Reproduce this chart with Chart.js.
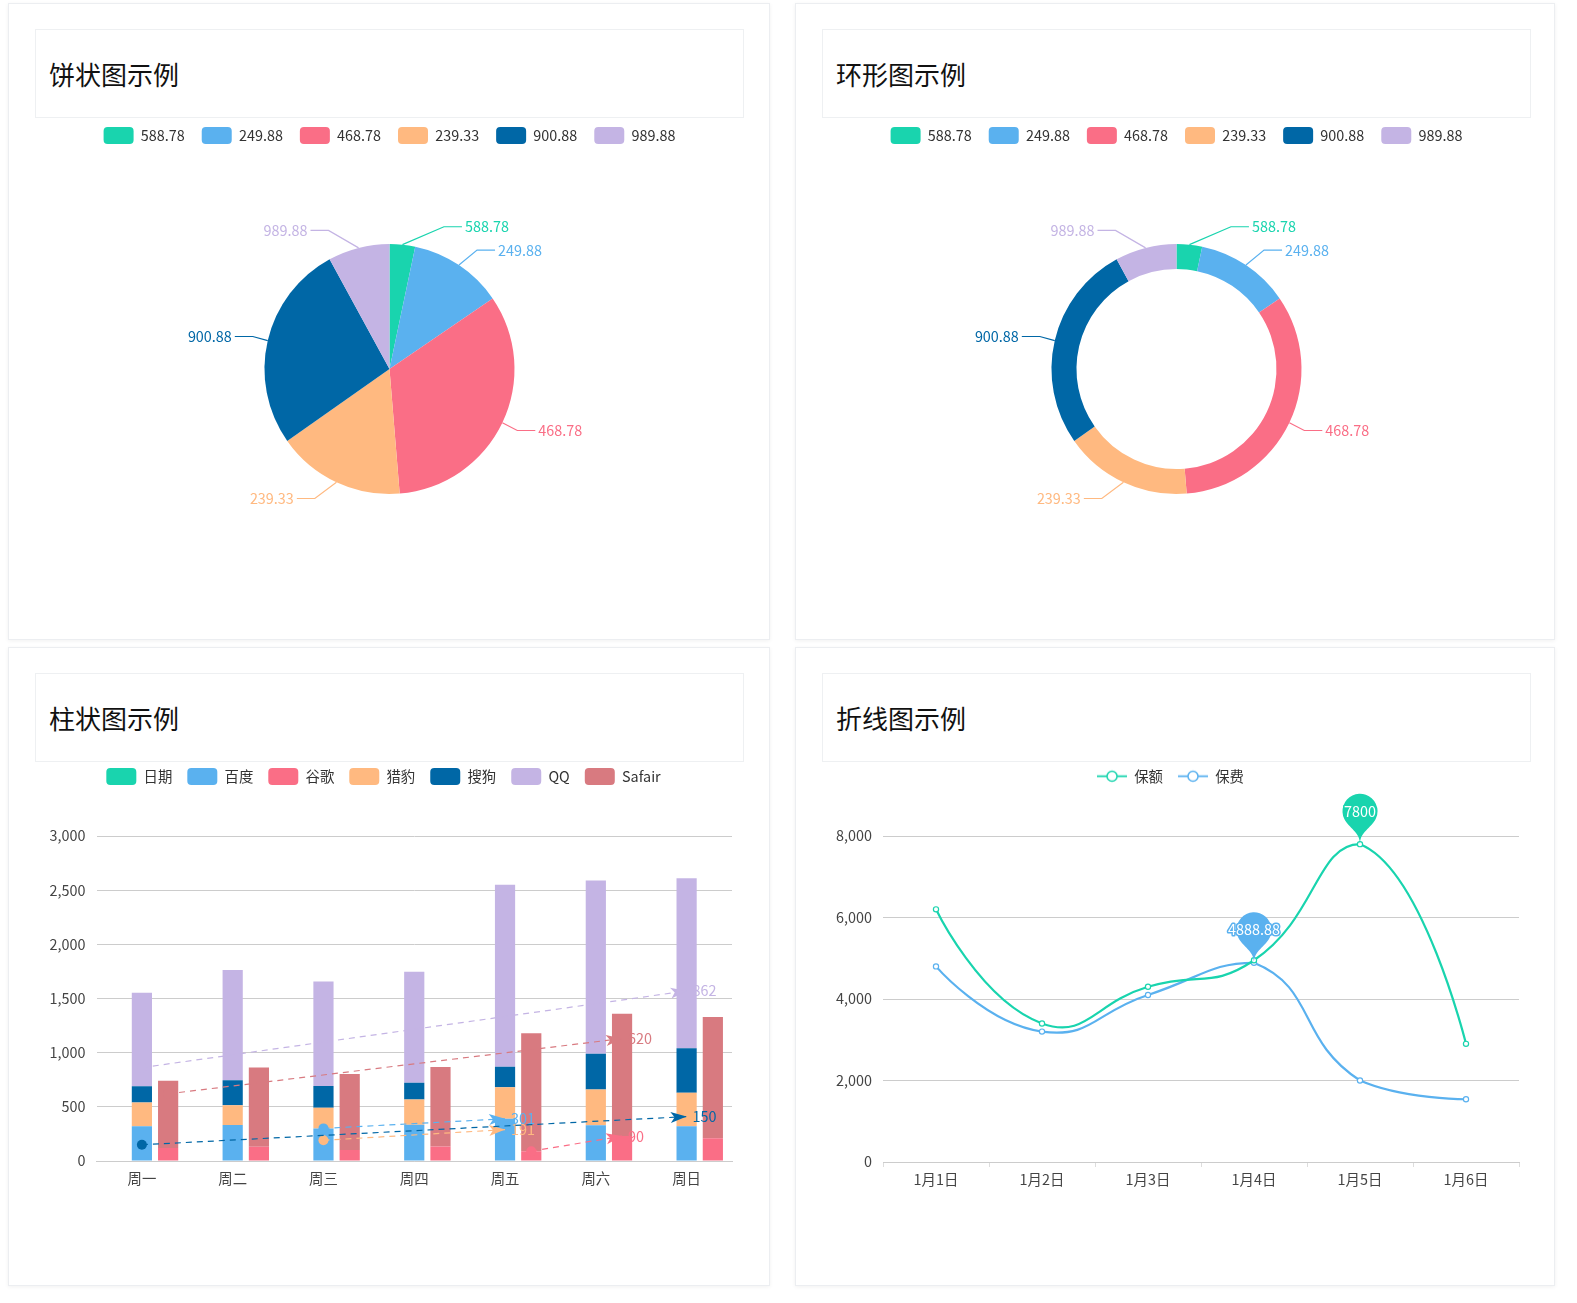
<!DOCTYPE html>
<html>
<head>
<meta charset="utf-8">
<title>图表示例</title>
<script src="https://cdn.jsdelivr.net/npm/chart.js@4.4.1/dist/chart.umd.min.js"></script>
<style>
body { margin: 0; background: #fff; font-family: "Noto Sans CJK SC", "Noto Sans", sans-serif; }
.card { position: absolute; background: #fff; border: 1px solid #eceef1; box-shadow: 0 1px 4px rgba(0,0,0,0.06); box-sizing: border-box; }
.title { position: absolute; left: 26px; top: 25px; width: 709px; height: 89px; border: 1px solid #eef0f2; box-sizing: border-box; font-size: 26px; line-height: 87px; padding-left: 13px; color: #111; }
canvas { position: absolute; }
</style>
</head>
<body>
<div class="card" style="left:8px;top:3px;width:762px;height:637px"><div class="title">饼状图示例</div></div>
<div class="card" style="left:795px;top:3px;width:760px;height:637px"><div class="title">环形图示例</div></div>
<div class="card" style="left:8px;top:647px;width:762px;height:639px"><div class="title">柱状图示例</div></div>
<div class="card" style="left:795px;top:647px;width:760px;height:639px"><div class="title">折线图示例</div></div>

<canvas id="pieChart" width="709" height="474" style="left:35px;top:110px"></canvas>
<canvas id="ringChart" width="709" height="474" style="left:822px;top:110px"></canvas>
<canvas id="barChart" width="709" height="438" style="left:35px;top:753px"></canvas>
<canvas id="lineChart" width="709" height="438" style="left:822px;top:754px"></canvas>

<script>
const palette = ["#19d4ae", "#5ab1ef", "#fa6e86", "#ffb980", "#0067a6", "#c4b4e4", "#d87a80"];

// pie / ring
const pieNames = ["588.78", "249.88", "468.78", "239.33", "900.88", "989.88"];
const pieValues = [330, 1215, 3325, 1655, 2680, 795];

// bar
const weekDays = ["周一", "周二", "周三", "周四", "周五", "周六", "周日"];
const dateData = [null, null, null, null, null, null, null];
const baiduData = [320, 332, 301, 334, 390, 330, 320];
const googleData = [120, 132, 101, 134, 90, 230, 210];
const liebaoData = [220, 182, 191, 234, 290, 330, 310];
const sougouData = [150, 232, 201, 154, 190, 330, 410];
const qqData = [862, 1018, 964, 1026, 1679, 1600, 1570];
const safairData = [620, 732, 701, 734, 1090, 1130, 1120];

// line
const days = ["1月1日", "1月2日", "1月3日", "1月4日", "1月5日", "1月6日"];
const baoeData = [6200, 3400, 4300, 4950, 7800, 2900];
const baofeiData = [4800, 3200, 4100, 4888.88, 2000, 1540];

const FONT = '"Noto Sans CJK SC", "Noto Sans", sans-serif';
Chart.defaults.font.family = FONT;
Chart.defaults.font.size = 14.4;
Chart.defaults.color = "#333";

// labels outside pie slices, echarts style
const outLabels = {
  id: "outLabels",
  afterDatasetsDraw(chart) {
    const ctx = chart.ctx;
    const meta = chart.getDatasetMeta(0);
    const len1 = 18, len2 = 18;
    ctx.save();
    ctx.font = "14.4px " + FONT;
    ctx.lineWidth = 1.2;
    ctx.textBaseline = "middle";
    meta.data.forEach((arc, i) => {
      const color = chart.data.datasets[0].backgroundColor[i];
      const mid = (arc.startAngle + arc.endAngle) / 2;
      const dx = Math.cos(mid), dy = Math.sin(mid);
      const r = arc.outerRadius;
      const x0 = arc.x + dx * r, y0 = arc.y + dy * r;
      const ly = arc.y + dy * (r + len1);
      const deltaY = Math.abs(ly - arc.y);
      const R = r + len1 + len2;
      const deltaX = deltaY < r + len1 ? Math.sqrt(R * R - deltaY * deltaY) : Math.abs(dx * (r + len1));
      const dir = dx < 0 ? -1 : 1;
      const lx = arc.x + dir * deltaX;
      const x2 = lx - dir * 3;
      const x1 = x2 - dir * len2;
      ctx.strokeStyle = color;
      ctx.beginPath();
      ctx.moveTo(x0, y0);
      ctx.lineTo(x1, ly);
      ctx.lineTo(x2, ly);
      ctx.stroke();
      ctx.fillStyle = color;
      ctx.textAlign = dir < 0 ? "right" : "left";
      ctx.fillText(chart.data.labels[i], lx, ly);
    });
    ctx.restore();
  }
};

function pieConfig(cutout) {
  return {
    type: "doughnut",
    data: {
      labels: pieNames,
      datasets: [{ data: pieValues, backgroundColor: palette.slice(0, 6), borderWidth: 0 }]
    },
    options: {
      responsive: false,
      animation: false,
      events: [],
      cutout: cutout,
      radius: 125,
      plugins: {
        legend: {
          labels: { boxWidth: 30, boxHeight: 17, padding: 17, useBorderRadius: true, borderRadius: 4, color: "#333" }
        },
        tooltip: { enabled: false }
      }
    },
    plugins: [outLabels]
  };
}

new Chart(document.getElementById("pieChart"), pieConfig(0));
new Chart(document.getElementById("ringChart"), pieConfig("80%"));

// dashed min -> max lines on the bars
const markLines = {
  id: "markLines",
  afterDatasetsDraw(chart) {
    const ctx = chart.ctx;
    const yScale = chart.scales.y;
    const sets = chart.data.datasets;
    ctx.save();
    sets.forEach((ds, di) => {
      if (!ds.data.some(v => v != null)) return;
      const totals = ds.data.map((v, i) =>
        sets.slice(0, di + 1).filter(s => s.stack === ds.stack).reduce((a, s) => a + (s.data[i] || 0), 0));
      const minI = totals.indexOf(Math.min(...totals));
      const maxI = totals.indexOf(Math.max(...totals));
      const meta = chart.getDatasetMeta(di);
      const x0 = meta.data[minI].x, y0 = yScale.getPixelForValue(ds.data[minI]);
      const x1 = meta.data[maxI].x, y1 = yScale.getPixelForValue(ds.data[maxI]);
      const color = ds.backgroundColor;
      ctx.strokeStyle = color;
      ctx.fillStyle = color;
      ctx.lineWidth = 1.2;
      ctx.setLineDash([6, 5]);
      ctx.beginPath();
      ctx.moveTo(x0, y0);
      ctx.lineTo(x1, y1);
      ctx.stroke();
      ctx.setLineDash([]);
      ctx.beginPath();
      ctx.arc(x0, y0, 5, 0, Math.PI * 2);
      ctx.fill();
      const ang = Math.atan2(y1 - y0, x1 - x0);
      ctx.save();
      ctx.translate(x1, y1);
      ctx.rotate(ang);
      ctx.beginPath();
      ctx.moveTo(0, 0);
      ctx.lineTo(-16, 5.5);
      ctx.lineTo(-12, 0);
      ctx.lineTo(-16, -5.5);
      ctx.closePath();
      ctx.fill();
      ctx.restore();
      ctx.font = "14.4px " + FONT;
      ctx.textBaseline = "middle";
      ctx.textAlign = "left";
      ctx.fillText(String(ds.data[minI]), x1 + 6, y1);
    });
    ctx.restore();
  }
};

new Chart(document.getElementById("barChart"), {
  type: "bar",
  data: {
    labels: weekDays,
    datasets: [
      { label: "日期", data: dateData, stack: "date", backgroundColor: palette[0] },
      { label: "百度", data: baiduData, stack: "a", backgroundColor: palette[1] },
      { label: "谷歌", data: googleData, stack: "b", backgroundColor: palette[2] },
      { label: "猎豹", data: liebaoData, stack: "a", backgroundColor: palette[3] },
      { label: "搜狗", data: sougouData, stack: "a", backgroundColor: palette[4] },
      { label: "QQ", data: qqData, stack: "a", backgroundColor: palette[5] },
      { label: "Safair", data: safairData, stack: "b", backgroundColor: palette[6] }
    ]
  },
  options: {
    responsive: false,
    animation: false,
    events: [],
    layout: { padding: { right: 12 } },
    datasets: { bar: { categoryPercentage: 0.867, barPercentage: 0.77 } },
    plugins: {
      legend: {
        weight: 2000,
        labels: { boxWidth: 30, boxHeight: 17, padding: 15, useBorderRadius: true, borderRadius: 4, color: "#333" }
      },
      subtitle: { display: true, text: "", weight: 500, font: { size: 10, lineHeight: 1 }, padding: { top: 31, bottom: 0 } },
      tooltip: { enabled: false }
    },
    scales: {
      x: {
        stacked: true,
        grid: { drawOnChartArea: false, drawTicks: false, color: "#ccc" },
        border: { color: "#ccc" },
        ticks: { padding: 9, color: "#444" },
        afterFit(s) { s.height = 30; }
      },
      y: {
        stacked: true,
        min: 0,
        max: 3000,
        ticks: { stepSize: 500, padding: 11, color: "#444" },
        grid: { color: "#ccc", drawTicks: false },
        border: { display: false },
        afterFit(s) { s.width = 61.5; }
      }
    }
  },
  plugins: [markLines]
});

// echarts-like smoothing: flat ends, control points kept inside the points' box
const echartsSmooth = {
  id: "echartsSmooth",
  beforeDatasetsDraw(chart) {
    const smooth = 0.5;
    chart.getSortedVisibleDatasetMetas().forEach(meta => {
      const pts = meta.data;
      const xs = pts.map(p => p.x), ys = pts.map(p => p.y);
      const minX = Math.min(...xs), maxX = Math.max(...xs);
      const minY = Math.min(...ys), maxY = Math.max(...ys);
      const cx = v => Math.min(maxX, Math.max(minX, v));
      const cy = v => Math.min(maxY, Math.max(minY, v));
      pts.forEach((p, i) => {
        let inX = p.x, inY = p.y, outX = p.x, outY = p.y;
        if (i > 0 && i < pts.length - 1) {
          const prev = pts[i - 1], next = pts[i + 1];
          const vx = next.x - prev.x, vy = next.y - prev.y;
          const l0 = Math.hypot(p.x - prev.x, p.y - prev.y);
          const l1 = Math.hypot(next.x - p.x, next.y - p.y);
          const r = l1 / (l0 + l1);
          inX = p.x - vx * smooth * (1 - r);
          inY = p.y - vy * smooth * (1 - r);
          outX = p.x + vx * smooth * r;
          outY = p.y + vy * smooth * r;
        }
        p.cp1x = cx(inX); p.cp1y = cy(inY);
        p.cp2x = cx(outX); p.cp2y = cy(outY);
      });
      meta.dataset._pointsUpdated = true;
      meta.dataset._path = undefined;
    });
  }
};

// pin markers on the max of each line
function drawPin(ctx, x, y, w, h, color) {
  const r = w / 2;
  const dy = r * r / (h - r);
  const cy = y - h + r + dy;
  const angle = Math.asin(dy / r);
  const dx = Math.cos(angle) * r;
  const tanX = Math.sin(angle), tanY = Math.cos(angle);
  const cpLen = r * 0.6, cpLen2 = r * 0.7;
  ctx.beginPath();
  ctx.moveTo(x - dx, cy + dy);
  ctx.arc(x, cy, r, Math.PI - angle, Math.PI * 2 + angle);
  ctx.bezierCurveTo(x + dx - tanX * cpLen, cy + dy + tanY * cpLen, x, y - cpLen2, x, y);
  ctx.bezierCurveTo(x, y - cpLen2, x - dx + tanX * cpLen, cy + dy + tanY * cpLen, x - dx, cy + dy);
  ctx.closePath();
  ctx.fillStyle = color;
  ctx.fill();
  return cy;
}

const pins = {
  id: "pins",
  afterDatasetsDraw(chart) {
    const ctx = chart.ctx;
    ctx.save();
    chart.data.datasets.forEach((ds, di) => {
      const maxI = ds.data.indexOf(Math.max(...ds.data));
      const pt = chart.getDatasetMeta(di).data[maxI];
      const cy = drawPin(ctx, pt.x, pt.y, 35, 58, ds.borderColor);
      ctx.font = "14.4px " + FONT;
      ctx.textAlign = "center";
      ctx.textBaseline = "middle";
      ctx.lineWidth = 3;
      ctx.lineJoin = "round";
      ctx.strokeStyle = ds.borderColor;
      ctx.strokeText(String(ds.data[maxI]), pt.x, cy);
      ctx.fillStyle = "#fff";
      ctx.fillText(String(ds.data[maxI]), pt.x, cy);
    });
    ctx.restore();
  }
};

function lineIcon(color) {
  const c = document.createElement("canvas");
  c.width = 30; c.height = 17;
  const g = c.getContext("2d");
  g.strokeStyle = color;
  g.lineWidth = 1.8;
  g.beginPath(); g.moveTo(0, 8.5); g.lineTo(30, 8.5); g.stroke();
  g.beginPath(); g.arc(15, 8.5, 5, 0, Math.PI * 2);
  g.fillStyle = "#fff"; g.fill();
  g.lineWidth = 1.5; g.stroke();
  return c;
}
const lineIcons = [lineIcon(palette[0]), lineIcon(palette[1])];

new Chart(document.getElementById("lineChart"), {
  type: "line",
  data: {
    labels: days,
    datasets: [
      { label: "保额", data: baoeData, borderColor: palette[0], backgroundColor: palette[0] },
      { label: "保费", data: baofeiData, borderColor: palette[1], backgroundColor: palette[1] }
    ]
  },
  options: {
    responsive: false,
    animation: false,
    events: [],
    layout: { padding: { right: 12 } },
    elements: {
      line: { tension: 0.5, borderWidth: 2.2 },
      point: { radius: 2.6, borderWidth: 1.2, backgroundColor: "#fff" }
    },
    datasets: { line: { pointBackgroundColor: "#fff" } },
    plugins: {
      legend: {
        weight: 2000,
        labels: {
          usePointStyle: true,
          pointStyleWidth: 30,
          padding: 15,
          color: "#333",
          generateLabels(chart) {
            const items = Chart.defaults.plugins.legend.labels.generateLabels(chart);
            items.forEach((it, i) => { it.pointStyle = lineIcons[i]; });
            return items;
          }
        }
      },
      subtitle: { display: true, text: "", weight: 500, font: { size: 10, lineHeight: 1 }, padding: { top: 32.6, bottom: 0 } },
      tooltip: { enabled: false }
    },
    scales: {
      x: {
        offset: true,
        grid: { offset: true, drawOnChartArea: false, drawTicks: true, tickLength: 5, color: "#ddd" },
        border: { color: "#ccc" },
        ticks: { padding: 4, color: "#444" },
        afterFit(s) { s.height = 30; }
      },
      y: {
        min: 0,
        max: 8000,
        ticks: { stepSize: 2000, padding: 11, color: "#444" },
        grid: { color: "#ccc", drawTicks: false },
        border: { display: false },
        afterFit(s) { s.width = 61; }
      }
    }
  },
  plugins: [echartsSmooth, pins]
});
</script>
</body>
</html>
